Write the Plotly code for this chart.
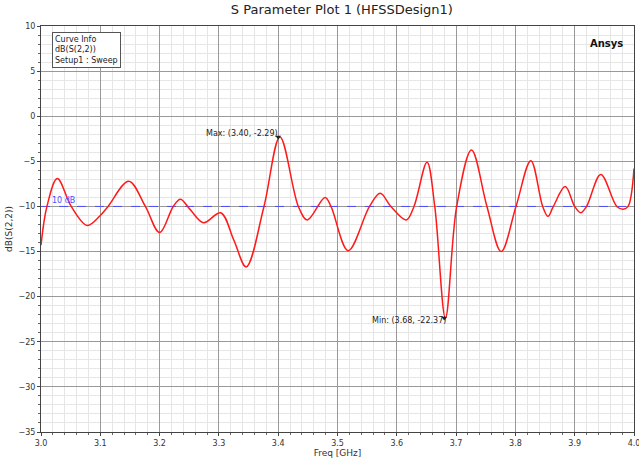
import plotly.graph_objects as go

freq = [3.000, 3.010, 3.0275, 3.051, 3.078, 3.100, 3.113, 3.148, 3.176, 3.200, 3.223, 3.235,
        3.251, 3.274, 3.303, 3.325, 3.346, 3.376, 3.403, 3.434, 3.449, 3.479, 3.489, 3.518,
        3.554, 3.572, 3.590, 3.616, 3.629, 3.651, 3.664, 3.682, 3.701, 3.726, 3.752, 3.776,
        3.801, 3.826, 3.846, 3.855, 3.864, 3.884, 3.900, 3.910, 3.920, 3.944, 3.971, 3.982,
        3.990, 4.000]
db_s22 = [-14.3, -10.0, -6.9, -10.0, -12.1, -11.0, -10.0, -7.2, -10.0, -12.9, -10.0, -9.2,
          -10.3, -11.8, -10.7, -13.7, -16.7, -10.0, -2.29, -10.0, -11.5, -9.0, -10.0, -14.9,
          -10.0, -8.55, -10.0, -11.5, -10.0, -5.1, -10.0, -22.37, -10.0, -3.75, -10.0, -15.0,
          -10.0, -4.93, -10.0, -11.1, -10.0, -7.8, -10.0, -10.7, -10.0, -6.45, -10.0, -10.3,
          -10.0, -5.8]

ref_level = -10
max_pt = (3.40, -2.29)
min_pt = (3.68, -22.37)
x_ticks = [3.0, 3.1, 3.2, 3.3, 3.4, 3.5, 3.6, 3.7, 3.8, 3.9, 4.0]
y_ticks = [-35, -30, -25, -20, -15, -10, -5, 0, 5, 10]

font = "DejaVu Sans"
fig = go.Figure()
fig.add_trace(go.Scatter(x=[3.0, 4.0], y=[ref_level, ref_level], mode="lines",
                         line=dict(color="#4d4dff", width=1, dash="dash"), hoverinfo="skip"))
fig.add_trace(go.Scatter(x=freq, y=db_s22, mode="lines",
                         line=dict(color="#ff1a1a", width=1.5, shape="spline", smoothing=1.0)))
fig.add_trace(go.Scatter(x=[max_pt[0], min_pt[0]], y=[max_pt[1], min_pt[1]], mode="markers",
                         marker=dict(symbol="triangle-down", size=5, color="#222",
                                     line=dict(width=0))))

fig.add_annotation(x=max_pt[0], y=max_pt[1], text="Max: (3.40, -2.29)", showarrow=False,
                   xanchor="right", yanchor="bottom", xshift=2, yshift=-3,
                   font=dict(family=font, size=8, color="#222"))
fig.add_annotation(x=min_pt[0], y=min_pt[1], text="Min: (3.68, -22.37)", showarrow=False,
                   xanchor="right", yanchor="middle", xshift=4, yshift=-2,
                   font=dict(family=font, size=8, color="#222"))
fig.add_annotation(x=3.015, y=ref_level, text="10 dB", showarrow=False, xanchor="left",
                   yanchor="bottom", yshift=-1, font=dict(family=font, size=8, color="#4d4dff"))
fig.add_annotation(xref="paper", yref="paper", x=0.018, y=0.985, xanchor="left", yanchor="top",
                   text="Curve Info<br>dB(S(2,2))<br>Setup1 : Sweep", align="left",
                   showarrow=False, bordercolor="#555", borderwidth=1, borderpad=2,
                   bgcolor="white", font=dict(family=font, size=8, color="#222"))
fig.add_annotation(xref="paper", yref="paper", x=0.985, y=0.975, xanchor="right", yanchor="top",
                   text="<b>Ansys</b>", showarrow=False,
                   font=dict(family=font, size=10, color="#111"))

fig.update_layout(
    width=639, height=459, margin=dict(l=41, r=5, t=26, b=27, autoexpand=False),
    paper_bgcolor="white", plot_bgcolor="white", showlegend=False,
    title=dict(text="S Parameter Plot 1 (HFSSDesign1)", x=0.535, xanchor="center", y=0.99,
               yanchor="top", font=dict(family=font, size=13, color="#222")),
    font=dict(family=font, size=8, color="#333"),
)
fig.update_xaxes(range=[3.0, 4.0], tickvals=x_ticks, ticktext=[f"{v:.1f}" for v in x_ticks],
                 ticklabeloverflow="allow", automargin=False,
                 showgrid=True, gridcolor="#999", gridwidth=1, zeroline=False,
                 showline=True, linecolor="#444", mirror=True, ticks="outside", ticklen=3,
                 tickfont=dict(family=font, size=8, color="#333"),
                 minor=dict(dtick=0.02, showgrid=True, gridcolor="#e6e6e6", ticks="outside",
                            ticklen=2, tickcolor="#666"),
                 title=dict(text="Freq [GHz]", standoff=2, font=dict(family=font, size=9)))
fig.update_yaxes(range=[-35, 10], tickvals=y_ticks, showgrid=True, gridcolor="#999", gridwidth=1,
                 automargin=False,
                 zeroline=False, showline=True, linecolor="#444", mirror=True, ticks="outside",
                 ticklen=3, tickfont=dict(family=font, size=8, color="#333"),
                 minor=dict(dtick=1, showgrid=True, gridcolor="#e6e6e6", ticks="outside",
                            ticklen=2, tickcolor="#666"),
                 title=dict(text="dB(S(2,2))", standoff=4, font=dict(family=font, size=9)))

fig.write_html("out.html")
